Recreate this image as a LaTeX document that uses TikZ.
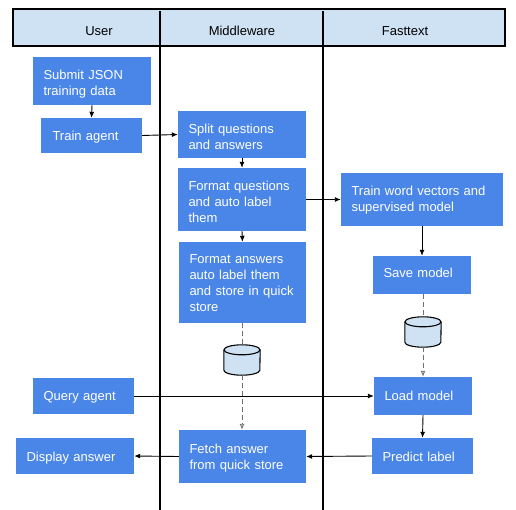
\documentclass[tikz,border=0pt]{standalone}
\usepackage{fontspec}
\setmainfont{Liberation Sans}
\usetikzlibrary{arrows.meta}
\definecolor{boxblue}{HTML}{4A86E8}
\definecolor{paleblue}{HTML}{CFE2F3}
\definecolor{dashgray}{HTML}{707070}
\begin{document}
\begin{tikzpicture}[x=1pt,y=-1pt,
  font=\fontsize{13}{16}\selectfont,
  bluebox/.style={fill=boxblue, text=white, align=left, inner xsep=10.5pt, inner ysep=0pt, text height=23pt},
  headlabel/.style={anchor=base, inner sep=0pt},
  lane/.style={line width=1.3pt, black},
  db/.style={minimum width=36pt, minimum height=30pt, inner sep=0pt},
  dbline/.style={draw=black, line width=1.1pt},
  flow/.style={-{Latex[length=6pt,width=5pt]}, line width=0.9pt, black},
  dashline/.style={dashed, dash pattern=on 5pt off 3pt, line width=0.9pt, dashgray},
  dashflow/.style={dashline, -{Latex[length=6pt,width=5pt,open]}}
]
\useasboundingbox (0,0) rectangle (516,510);
\fill[white] (0,0) rectangle (516,510);
% header
\node[draw=black, line width=1.1pt, fill=paleblue, minimum width=492pt, minimum height=37pt, inner sep=0pt] (header) at (259,27.5) {};
\draw[lane] (160,11) -- (160,510);
\draw[lane] (323,11) -- (323,510);
\node[headlabel] (huser) at (99,36) {User};
\node[headlabel] (hmid) at (242,36) {Middleware};
\node[headlabel] (hfast) at (405,36) {Fasttext};
% boxes
\node[bluebox, text width=97pt, text depth=25pt] (submit) at (92,81) {Submit JSON\\training data};
\node[bluebox, text width=80pt, text depth=12pt] (train) at (91.5,135.5) {\hspace*{1pt}Train agent};
\node[bluebox, text width=107pt, text depth=24pt] (split) at (242,134.5) {Split questions\\and answers};
\node[bluebox, text width=107pt, text depth=40pt] (fmtq) at (242,199.5) {Format questions\\and auto label\\them};
\node[bluebox, text width=106pt, text height=22pt, text depth=59pt] (fmta) at (242.5,282.5) {Format answers\\auto label them\\and store in quick\\store};
\node[db] (db1) at (242,360) {};
\node[bluebox, text width=141pt, text height=22.5pt, text depth=30.5pt] (trainwv) at (422,199.5) {Train word vectors and\\supervised model};
\node[bluebox, text width=77pt, text height=22pt, text depth=16pt] (save) at (422,275) {Save model};
\node[db] (db2) at (423,332) {};
\node[bluebox, text width=77pt, text depth=15pt] (load) at (423,396) {Load model};
\node[bluebox, text width=80pt, text depth=13pt] (predict) at (422.5,456) {Predict label};
\node[bluebox, text width=106pt, text depth=30pt] (fetch) at (242.5,456.5) {Fetch answer\\from quick store};
\node[bluebox, text width=97pt, text depth=13pt] (display) at (75,456) {Display answer};
\node[bluebox, text width=80pt, text height=22pt, text depth=14pt] (query) at (83.5,396) {Query agent};
% cylinders
\foreach \c in {db1,db2} {
  \fill[paleblue] ([yshift=-5pt]\c.north west) -- ([yshift=5pt]\c.south west)
    arc[start angle=180, end angle=360, x radius=18pt, y radius=5pt]
    -- ([yshift=-5pt]\c.north east)
    arc[start angle=0, end angle=180, x radius=18pt, y radius=5pt] -- cycle;
  \draw[dbline] ([yshift=-5pt]\c.north west) -- ([yshift=5pt]\c.south west)
    arc[start angle=180, end angle=360, x radius=18pt, y radius=5pt]
    -- ([yshift=-5pt]\c.north east);
  \draw[dbline] ([yshift=-5pt]\c.north) ellipse[x radius=18pt, y radius=5pt];
}
% connectors
\draw[flow] (submit.south) -- (train.north);
\draw[flow] (train.east) -- (split.west);
\draw[flow] (split.south) -- (fmtq.north);
\draw[flow] (fmtq.south) -- (fmta.north);
\draw[flow] (fmtq.east) -- (trainwv.west);
\draw[flow] (trainwv.south) -- (save.north);
\draw[dashline] (save.south -| db2.north) -- (db2.north);
\draw[dashflow] (db2.south) -- (load.north -| db2.south);
\draw[dashline] (fmta.south -| db1.north) -- (db1.north);
\draw[dashflow] (db1.south) -- (fetch.north -| db1.south);
\draw[flow] (query.east) -- (load.west);
\draw[flow] (load.south) -- (predict.north);
\draw[flow] (predict.west) -- (fetch.east);
\draw[flow] (fetch.west) -- (display.east);
\end{tikzpicture}
\end{document}
